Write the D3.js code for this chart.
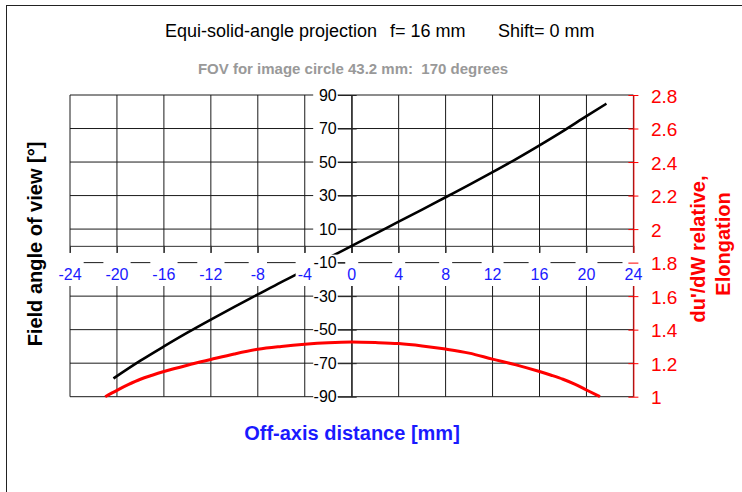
<!DOCTYPE html>
<html>
<head>
<meta charset="utf-8">
<script src="https://cdn.jsdelivr.net/npm/d3@7"></script>
<style>
  html, body { margin: 0; padding: 0; background: #fff; }
  svg { display: block; font-family: Arial, "Liberation Sans", sans-serif; }
  text { white-space: pre; }
</style>
</head>
<body>
<svg id="chart" width="742" height="492"></svg>
<script>
// Field angle of view [deg] against off-axis distance [mm]
const offsetMm = [-20.3, -18, -16, -14, -12, -10, -8, -6, -4.7, -4, -2, -1.1, 0,
                  2, 4, 6, 8, 10, 12, 14, 16, 18, 20, 21.7];
const fieldAngleDeg = [-79.1, -68.5, -60.0, -51.8, -44.0, -36.4, -29.0, -21.6, -17.0, -14.4, -7.2, -4.0, 0,
                       7.2, 14.4, 21.6, 29.0, 36.4, 44.0, 51.8, 60.0, 68.5, 77.4, 84.8];

// du'/dW relative (elongation) against off-axis distance [mm]
const elongOffsetMm = [-21.0, -20, -19, -18, -17, -16, -14, -12, -10, -8, -6, -4, -2, 0,
                       2, 4, 6, 8, 10, 12, 14, 16, 17, 18, 19, 20, 21.15];
const elongation = [1.0, 1.038, 1.073, 1.104, 1.128, 1.15, 1.188, 1.222, 1.255, 1.283, 1.3, 1.313, 1.322, 1.326,
                    1.323, 1.317, 1.303, 1.284, 1.26, 1.224, 1.19, 1.15, 1.128, 1.104, 1.075, 1.04, 1.0];

const xTicks = [-24, -20, -16, -12, -8, -4, 0, 4, 8, 12, 16, 20, 24];
const angleTicks = [90, 70, 50, 30, 10, -10, -30, -50, -70, -90];
const elongTicks = [2.8, 2.6, 2.4, 2.2, 2, 1.8, 1.6, 1.4, 1.2, 1];

const titleParts = ["Equi-solid-angle projection", "f= 16 mm", "Shift= 0 mm"];
const subtitle = "FOV for image circle 43.2 mm:  170 degrees";
const xTitle = "Off-axis distance [mm]";
const yTitle = "Field angle of view [°]";
const y2Title = ["du'/dW relative,", "Elongation"];

const BLUE = "#1a1aff", RED = "#ff0000";

const svg = d3.select("#chart");

// plot box
const plotL = 70, plotR = 633.4, plotT = 95, plotB = 396.7;
const x = d3.scaleLinear().domain([-24, 24]).range([plotL, plotR]);
const yA = d3.scaleLinear().domain([-90, 90]).range([plotB, plotT]);
const yE = d3.scaleLinear().domain([1, 2.8]).range([plotB, plotT]);

// outer frame
svg.append("rect").attr("x", 6.5).attr("y", 5.5).attr("width", 780).attr("height", 520)
  .attr("fill", "none").attr("stroke", "#222").attr("stroke-width", 1);

// titles
const tg = svg.append("g").attr("font-size", 18).attr("fill", "#000");
tg.append("text").attr("x", 165).attr("y", 37).text(titleParts[0]);
tg.append("text").attr("x", 390).attr("y", 37).text(titleParts[1]);
tg.append("text").attr("x", 498).attr("y", 37).text(titleParts[2]);
svg.append("text").attr("x", 353).attr("y", 74).attr("text-anchor", "middle")
  .attr("font-size", 15).attr("font-weight", "bold").attr("fill", "#999")
  .text(subtitle);

// gridlines
const grid = svg.append("g").attr("stroke", "#1a1a1a").attr("stroke-width", 1);
grid.selectAll("line.v").data(xTicks).join("line").attr("class", "v")
  .attr("x1", d => x(d)).attr("x2", d => x(d)).attr("y1", plotT).attr("y2", plotB);
grid.selectAll("line.h").data(angleTicks).join("line").attr("class", "h")
  .attr("x1", plotL).attr("x2", plotR).attr("y1", d => yA(d)).attr("y2", d => yA(d));

// x axis through zero angle (ticks only, labels drawn on top later)
const xAxisG = svg.append("g").attr("transform", `translate(0,${yA(0)})`)
  .call(d3.axisBottom(x).tickValues(xTicks).tickSize(7).tickSizeOuter(0).tickFormat(""));
xAxisG.select(".domain").attr("stroke", "#333");
xAxisG.selectAll(".tick line").attr("stroke", "#333");

// angle axis at zero offset, ticks crossing the axis
const yAxisG = svg.append("g").attr("transform", `translate(${x(0)},0)`)
  .call(d3.axisLeft(yA).tickValues(angleTicks).tickSize(14).tickSizeOuter(0).tickFormat(""));
yAxisG.select(".domain").attr("stroke", "#222");
yAxisG.selectAll(".tick line").attr("x1", 5).attr("stroke", "#222");

// elongation axis line on the right (ticks added after the labels)
const rAxisG = svg.append("g").attr("transform", `translate(${plotR},0)`)
  .call(d3.axisRight(yE).tickValues(elongTicks).tickSize(5).tickSizeOuter(0).tickFormat(""));
rAxisG.select(".domain").attr("stroke", RED);
rAxisG.selectAll(".tick").remove();

// curves
const angleLine = d3.line().x(d => x(d[0])).y(d => yA(d[1])).curve(d3.curveMonotoneX);
svg.append("path").datum(d3.zip(offsetMm, fieldAngleDeg))
  .attr("d", angleLine).attr("fill", "none").attr("stroke", "#000").attr("stroke-width", 2.6);

const elongLine = d3.line().x(d => x(d[0])).y(d => yE(d[1])).curve(d3.curveMonotoneX);
svg.append("path").datum(d3.zip(elongOffsetMm, elongation))
  .attr("d", elongLine).attr("fill", "none").attr("stroke", RED).attr("stroke-width", 3);

// tick labels with opaque backgrounds
const xl = svg.append("g").attr("font-size", 16).attr("fill", BLUE).attr("text-anchor", "middle");
xTicks.forEach(v => {
  const g = xl.append("g");
  const r = g.append("rect").attr("fill", "#fff");
  const t = g.append("text").attr("x", x(v)).attr("y", 279.5).text(v);
  const b = t.node().getBBox();
  r.attr("x", b.x - 2).attr("width", b.width + 4).attr("y", 253).attr("height", 33);
});

const yl = svg.append("g").attr("font-size", 16).attr("fill", "#000").attr("text-anchor", "end");
angleTicks.forEach(v => {
  const g = yl.append("g");
  g.append("rect").attr("fill", "#fff").attr("x", x(0) - 38.5).attr("width", 24.5)
    .attr("y", yA(v) - 8).attr("height", 16);
  g.append("text").attr("x", x(0) - 15).attr("y", yA(v) + 5.7).text(v);
});

// elongation axis ticks, crossing the axis line
const rTickG = svg.append("g").attr("transform", `translate(${plotR},0)`)
  .call(d3.axisRight(yE).tickValues(elongTicks).tickSize(5).tickSizeOuter(0).tickFormat(""));
rTickG.select(".domain").remove();
rTickG.selectAll(".tick line").attr("x1", -5).attr("stroke", RED);
const rl = svg.append("g").attr("font-size", 19).attr("fill", RED);
rl.selectAll("text").data(elongTicks).join("text")
  .attr("x", 651).attr("y", d => yE(d) + 7.5).text(d => d);

// axis titles
svg.append("text").attr("x", 352).attr("y", 440).attr("text-anchor", "middle")
  .attr("font-size", 20).attr("font-weight", "bold").attr("fill", BLUE).text(xTitle);
svg.append("text").attr("transform", "translate(42,244) rotate(-90)").attr("text-anchor", "middle")
  .attr("font-size", 20).attr("font-weight", "bold").attr("fill", "#000").text(yTitle);
svg.append("text").attr("transform", "translate(705,249) rotate(-90)").attr("text-anchor", "middle")
  .attr("font-size", 20).attr("font-weight", "bold").attr("fill", RED).text(y2Title[0]);
svg.append("text").attr("transform", "translate(730,244) rotate(-90)").attr("text-anchor", "middle")
  .attr("font-size", 20).attr("font-weight", "bold").attr("fill", RED).text(y2Title[1]);
</script>
</body>
</html>
